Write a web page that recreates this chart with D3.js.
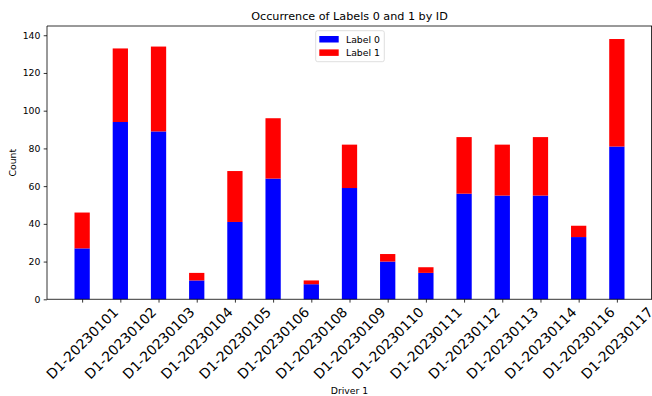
<!DOCTYPE html>
<html><head><meta charset="utf-8">
<script src="https://cdn.jsdelivr.net/npm/d3@7"></script>
<style>body{margin:0;background:#fff}svg{display:block;font-family:"DejaVu Sans",sans-serif}</style>
</head><body><svg id="c" width="652" height="396"></svg>
<script>
const categories = ["D1-20230101","D1-20230102","D1-20230103","D1-20230104","D1-20230105","D1-20230106","D1-20230108","D1-20230109","D1-20230110","D1-20230111","D1-20230112","D1-20230113","D1-20230114","D1-20230116","D1-20230117"];
const label0 = [27,94,89,10,41,64,8,59,20,14,56,55,55,33,81];
const label1 = [19,39,45,4,27,32,2,23,4,3,30,27,31,6,57];
const yTicks = [0,20,40,60,80,100,120,140];
const seriesNames = ["Label 0","Label 1"];
const seriesColors = ["#0000ff","#ff0000"];

const svg = d3.select("#c");
const L = 47, R = 652, T = 26, B = 299.3;
const n = categories.length, bw = 0.4;
const x = d3.scaleLinear().domain([-0.2 - 0.72, n - 1 + 0.2 + 0.72]).range([L, R]);
const maxTot = d3.max(label0.map((v,i)=>v+label1[i]));
const y = d3.scaleLinear().domain([0, maxTot*1.05]).range([B, T]);

const g = svg.append("g");
// bars
[label0, label1].forEach((arr, s) => {
  g.selectAll(null).data(arr).enter().append("rect")
    .attr("x", (d,i)=>x(i - bw/2))
    .attr("width", (d,i)=>x(i + bw/2) - x(i - bw/2))
    .attr("y", (d,i)=> y((s ? label0[i] : 0) + d))
    .attr("height", (d,i)=> y(s ? label0[i] : 0) - y((s ? label0[i] : 0) + d))
    .attr("fill", seriesColors[s]);
});

// y axis
const yAxis = d3.axisLeft(y).tickValues(yTicks).tickSize(3.3).tickPadding(3.3);
const ya = svg.append("g").attr("transform",`translate(${L},0)`).call(yAxis);
ya.select(".domain").remove();
ya.selectAll("line").attr("stroke","#000").attr("stroke-width",0.8);
ya.selectAll("text").attr("font-size","9.3px").attr("font-family","DejaVu Sans").attr("fill","#000");

// x axis ticks
const xa = svg.append("g").attr("transform",`translate(0,${B})`)
  .call(d3.axisBottom(x).tickValues(d3.range(n)).tickSize(3.3).tickFormat(()=>""));
xa.select(".domain").remove();
xa.selectAll("line").attr("stroke","#000").attr("stroke-width",0.8);

// rotated labels
const labG = svg.append("g");
categories.forEach((c,i)=>{
  const t = labG.append("text").text(c).attr("font-size","13.8px").attr("fill","#000")
    .attr("text-anchor","middle").attr("dominant-baseline","central");
  const len = t.node().getComputedTextLength();
  const h = 13.8*0.75;
  const half = (len + h) * Math.SQRT1_2 / 2;
  const cx = x(i), cy = B + 6.6 + half;
  t.attr("transform",`translate(${cx},${cy}) rotate(-45)`);
});

// spines
const sp = svg.append("g").attr("fill","none").attr("stroke","#000").attr("stroke-width",0.8);
sp.append("line").attr("x1",L).attr("x2",L).attr("y1",T).attr("y2",B);
sp.append("line").attr("x1",L).attr("x2",R).attr("y1",B).attr("y2",B);
sp.append("line").attr("x1",L).attr("x2",R).attr("y1",T).attr("y2",T);
sp.append("line").attr("x1",R-0.5).attr("x2",R-0.5).attr("y1",T).attr("y2",B);

// title and axis labels
svg.append("text").attr("x",(L+R)/2).attr("y",20.4).attr("text-anchor","middle")
  .attr("font-size","11.2px").attr("fill","#000").text("Occurrence of Labels 0 and 1 by ID");
svg.append("text").attr("x",(L+R)/2).attr("y",394).attr("text-anchor","middle")
  .attr("font-size","9.3px").attr("fill","#000").text("Driver 1");
svg.append("text").attr("transform",`translate(16,${(T+B)/2}) rotate(-90)`).attr("text-anchor","middle")
  .attr("font-size","9.3px").attr("fill","#000").text("Count");

// legend
const lg = svg.append("g").attr("transform","translate(315.7,30.7)");
lg.append("rect").attr("width",68.6).attr("height",31).attr("rx",2).attr("fill","#fff")
  .attr("fill-opacity",0.8).attr("stroke","#d6d6d6").attr("stroke-width",0.8);
seriesNames.forEach((s,i)=>{
  lg.append("rect").attr("x",3.6).attr("y",5.3 + i*13.4).attr("width",19.4).attr("height",6.5).attr("fill",seriesColors[i]);
  lg.append("text").attr("x",30.3).attr("y",8.6 + i*13.4).attr("dominant-baseline","central")
    .attr("font-size","9.3px").attr("fill","#000").text(s);
});
</script></body></html>
